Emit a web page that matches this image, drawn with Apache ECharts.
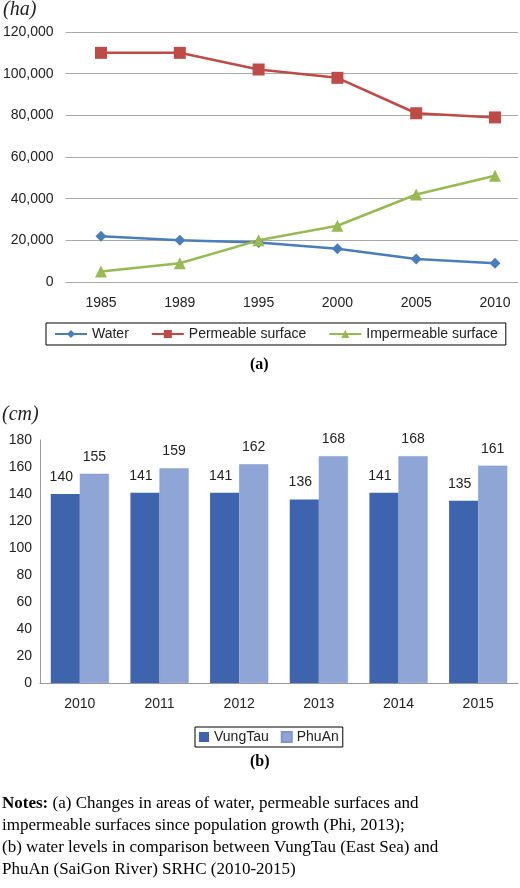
<!DOCTYPE html><html><head><meta charset="utf-8"><script src="https://cdn.jsdelivr.net/npm/echarts@6/dist/echarts.min.js"></script>
<style>html,body{margin:0;padding:0;background:#fff}#c{width:520px;height:888px}</style></head><body><div id="c"></div><script>
const yearsA=['1985','1989','1995','2000','2005','2010'];
const water=[22000,20000,19000,16000,11000,9000];
const permeable=[110000,110000,102000,98000,81000,79000];
const impermeable=[5000,9000,20000,27000,42000,51000];
const yearsB=['2010','2011','2012','2013','2014','2015'];
const vungTau=[140,141,141,136,141,135];
const phuAn=[155,159,162,168,168,161];
const F='Liberation Sans', S='Liberation Serif';
const ch=echarts.init(document.getElementById('c'));
const lab={fontFamily:F,fontSize:14,color:'#222'};
ch.setOption({animation:false,
grid:[{left:62,right:2,top:32,height:250},{left:101,right:25,top:32,height:250},{left:40,right:2,top:440,height:243}],
xAxis:[{gridIndex:0,type:'category',data:yearsA,show:false},
{gridIndex:1,type:'category',data:yearsA,boundaryGap:false,axisLine:{show:false},axisTick:{show:false},axisLabel:Object.assign({margin:14},lab)},
{gridIndex:2,type:'category',data:yearsB,axisLine:{lineStyle:{color:'#999'}},axisTick:{show:false},axisLabel:Object.assign({margin:14},lab)}],
yAxis:[{gridIndex:0,type:'value',min:0,max:120000,interval:20000,axisLine:{show:false},axisTick:{show:false},splitLine:{lineStyle:{color:'#aaa'}},axisLabel:Object.assign({margin:12,formatter:v=>v.toLocaleString('en-US')},lab)},
{gridIndex:1,type:'value',min:0,max:120000,show:false,splitLine:{show:false}},
{gridIndex:2,type:'value',min:0,max:180,interval:20,axisLine:{show:true,lineStyle:{color:'#999'}},axisTick:{show:false},splitLine:{show:false},axisLabel:Object.assign({margin:8},lab)}],
legend:[{data:['Water','Permeable surface','Impermeable surface'],left:46,top:323,width:456,height:22,itemGap:22,padding:[4,8],borderColor:'#000',borderWidth:1,itemWidth:32,itemHeight:10,textStyle:lab},
{data:['VungTau','PhuAn'],left:195,top:727,padding:[3,4],borderColor:'#000',borderWidth:1,itemWidth:10,itemHeight:10,itemGap:12,textStyle:lab,icon:'rect'}],
series:[
{name:'Water',type:'line',xAxisIndex:1,yAxisIndex:1,data:water,color:'#4A7EBB',symbol:'diamond',symbolSize:11,lineStyle:{width:2.5}},
{name:'Permeable surface',type:'line',xAxisIndex:1,yAxisIndex:1,data:permeable,color:'#BE4B48',symbol:'rect',symbolSize:12,lineStyle:{width:2.5}},
{name:'Impermeable surface',type:'line',xAxisIndex:1,yAxisIndex:1,data:impermeable,color:'#98B954',symbol:'triangle',symbolSize:12,lineStyle:{width:2.5}},
{name:'VungTau',type:'bar',xAxisIndex:2,yAxisIndex:2,data:vungTau,color:'#3D64AD',barGap:'0%',barCategoryGap:'27%',label:{show:true,position:'top',distance:10,offset:[-4,0],fontFamily:F,fontSize:14,color:'#222'}},
{name:'PhuAn',type:'bar',xAxisIndex:2,yAxisIndex:2,data:phuAn,color:'#8FA5D6',itemStyle:{borderColor:'#7f96cc',borderWidth:0.5},label:{show:true,position:'top',distance:10,fontFamily:F,fontSize:14,color:'#222'}}],
graphic:[
{type:'text',left:3,top:0,style:{text:'(ha)',font:'italic 20px Liberation Serif',fill:'#222'}},
{type:'text',left:250,top:357,style:{text:'(a)',font:'bold 16px Liberation Serif',fill:'#000'}},
{type:'text',left:2,top:405,style:{text:'(cm)',font:'italic 20px Liberation Serif',fill:'#222'}},
{type:'text',left:250,top:754,style:{text:'(b)',font:'bold 16px Liberation Serif',fill:'#000'}},
{type:'text',left:2,top:793,style:{text:'{b|Notes:} (a) Changes in areas of water, permeable surfaces and\nimpermeable surfaces since population growth (Phi, 2013);\n(b) water levels in comparison between VungTau (East Sea) and\nPhuAn (SaiGon River) SRHC (2010-2015)',font:'17px Liberation Serif',fill:'#000',lineHeight:22,rich:{b:{fontWeight:'bold',fontFamily:S,fontSize:17}}}}
]});
</script></body></html>
